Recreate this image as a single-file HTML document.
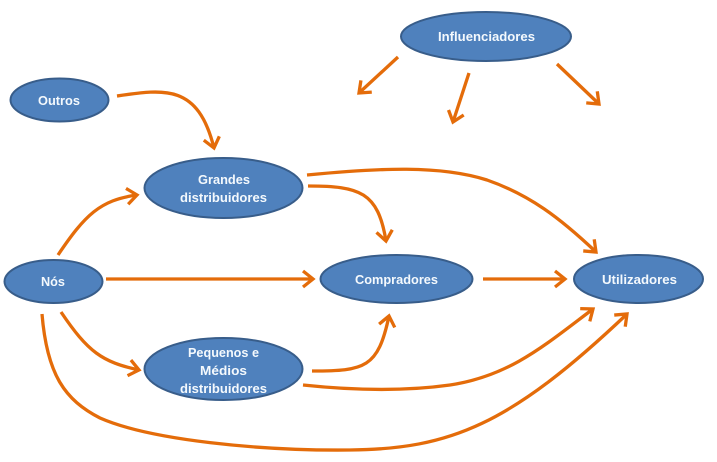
<!DOCTYPE html>
<html><head><meta charset="utf-8">
<style>
html,body{margin:0;padding:0;background:#fff;width:717px;height:462px;overflow:hidden}
svg{display:block}
text{font-family:"Liberation Sans",sans-serif;font-weight:bold;font-size:13px;fill:#f4f9fd;text-anchor:middle}
ellipse{fill:#4f81bd;stroke:#385d8a;stroke-width:2}
.a{fill:none;stroke:#e46c0a;stroke-width:3.3;marker-end:url(#m)}
</style></head><body>
<svg width="717" height="462" viewBox="0 0 717 462" xmlns="http://www.w3.org/2000/svg">
<defs>
<marker id="m" markerUnits="userSpaceOnUse" markerWidth="24" markerHeight="24" refX="14" refY="12" orient="auto">
<path d="M4,4 L14,12 L4,20" fill="none" stroke="#e46c0a" stroke-width="3.3"/>
</marker>
</defs>
<rect width="717" height="462" fill="#fff"/>

<ellipse cx="486" cy="36.5" rx="85" ry="24.5"/>
<ellipse cx="59.5" cy="100" rx="49" ry="21.5"/>
<ellipse cx="223.5" cy="188" rx="79" ry="30"/>
<ellipse cx="53.5" cy="281.5" rx="49" ry="21.5"/>
<ellipse cx="396.5" cy="279" rx="76" ry="24"/>
<ellipse cx="638.5" cy="279" rx="64.5" ry="24"/>
<ellipse cx="223.5" cy="369" rx="79" ry="31"/>

<path class="a" d="M398,57 L359,93"/>
<path class="a" d="M469,73 L453,122"/>
<path class="a" d="M557,64 L599,104"/>
<path class="a" d="M117,96 C165,89 198,84 214,148"/>
<path class="a" d="M58,255 C85,215 100,200 137,195"/>
<path class="a" d="M106,279 L313,279"/>
<path class="a" d="M61,312 C88,352 102,362 139,370"/>
<path class="a" d="M42,314 C47,375 65,400 100,418 C150,440 260,451 350,450 C450,449 510,425 627,314"/>
<path class="a" d="M307,175 C380,168 440,165 487,180 C530,195 560,218 596,252"/>
<path class="a" d="M308,186 C360,186 378,192 386,241"/>
<path class="a" d="M483,279 L565,279"/>
<path class="a" d="M312,371 C365,371 378,368 389,316"/>
<path class="a" d="M303,385 C350,390 400,392 450,385 C510,376 545,345 593,309"/>

<text x="486.5" y="41" textLength="97" lengthAdjust="spacingAndGlyphs">Influenciadores</text>
<text x="59" y="105" textLength="42" lengthAdjust="spacingAndGlyphs">Outros</text>
<text x="224" y="184" textLength="52" lengthAdjust="spacingAndGlyphs">Grandes</text>
<text x="223.5" y="202" textLength="87" lengthAdjust="spacingAndGlyphs">distribuidores</text>
<text x="53" y="286" textLength="24" lengthAdjust="spacingAndGlyphs">Nós</text>
<text x="396.5" y="284" textLength="83" lengthAdjust="spacingAndGlyphs">Compradores</text>
<text x="639.5" y="284" textLength="75" lengthAdjust="spacingAndGlyphs">Utilizadores</text>
<text x="223.5" y="357" textLength="71" lengthAdjust="spacingAndGlyphs">Pequenos e</text>
<text x="223.5" y="375" textLength="47" lengthAdjust="spacingAndGlyphs">Médios</text>
<text x="223.5" y="393" textLength="87" lengthAdjust="spacingAndGlyphs">distribuidores</text>
</svg>
</body></html>
